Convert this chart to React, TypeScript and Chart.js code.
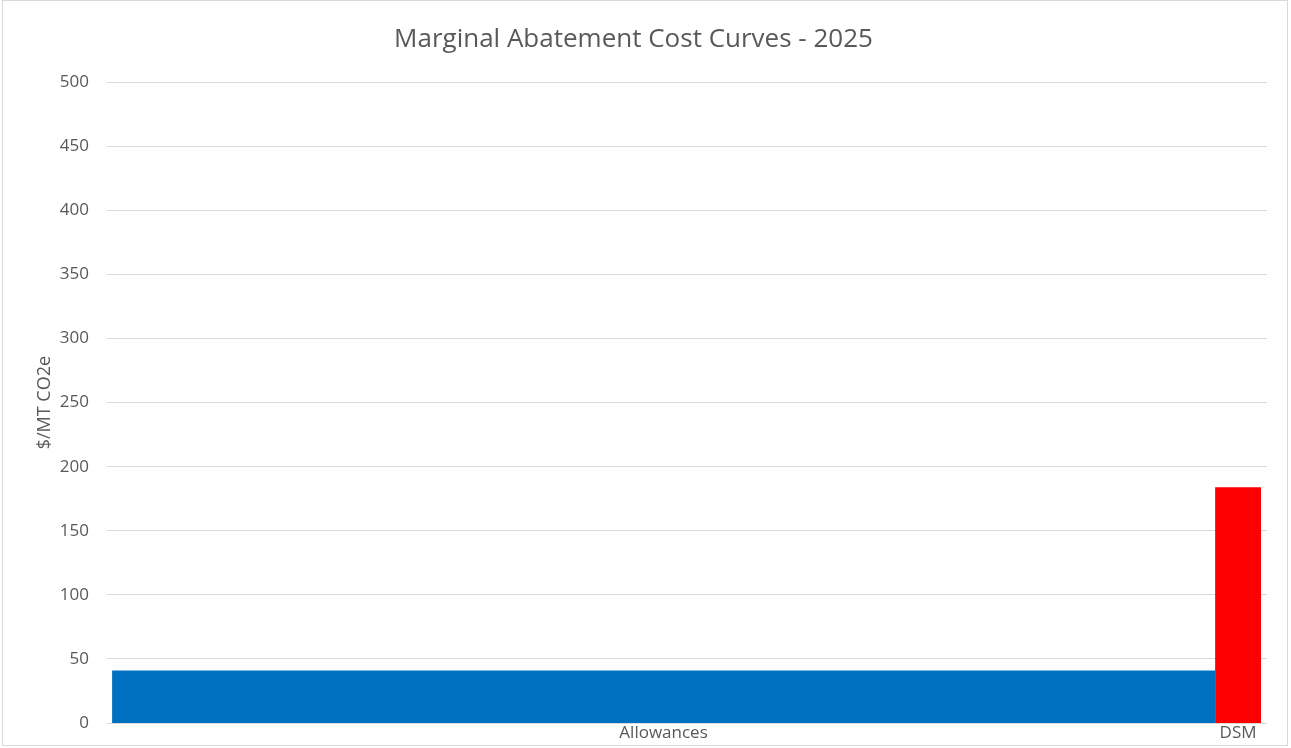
import React, { useEffect, useRef } from "react";
import { Chart, registerables } from "chart.js";

Chart.register(...registerables);

const title = "Marginal Abatement Cost Curves - 2025";
const yTitle = "$/MT CO2e";
const categories = ["Allowances", "DSM"];
const costs = [41, 184];
const quantities = [24, 1];
const colors = ["#0070C0", "#FF0000"];
const yTicksMax = 500;
const yStep = 50;

export default function App() {
  const ref = useRef<HTMLCanvasElement | null>(null);

  useEffect(() => {
    if (!ref.current) return;
    let start = 0;
    const centers: number[] = [];
    const datasets = categories.map((c, i) => {
      const x0 = start;
      const x1 = start + quantities[i];
      centers.push((x0 + x1) / 2);
      start = x1;
      return {
        label: c,
        data: [
          { x: x0, y: 0 },
          { x: x0, y: costs[i] },
          { x: x1, y: costs[i] },
          { x: x1, y: 0 },
        ],
        showLine: true,
        fill: "origin",
        backgroundColor: colors[i],
        borderColor: colors[i],
        borderWidth: 0,
        pointRadius: 0,
        tension: 0,
      };
    });
    const total = start;
    const font = "'Open Sans', sans-serif";
    const chart = new Chart(ref.current, {
      type: "scatter",
      data: { datasets: datasets as any },
      options: {
        animation: false,
        responsive: false,
        devicePixelRatio: 1,
        layout: { padding: { left: 0, right: 24, top: 0, bottom: 0 } },
        plugins: {
          legend: { display: false },
          tooltip: { enabled: false },
          title: {
            display: true,
            text: title,
            color: "#595959",
            font: { family: font, size: 26, weight: "normal" },
            padding: { top: 24, bottom: 27 },
          },
        },
        scales: {
          x: {
            type: "linear",
            min: -0.11,
            max: total + 0.13,
            grid: { display: false, drawTicks: false },
            border: { display: false },
            afterBuildTicks: (axis: any) => {
              axis.ticks = centers.map((v) => ({ value: v }));
            },
            afterFit: (axis: any) => {
              axis.height = 25;
            },
            ticks: {
              autoSkip: false,
              maxRotation: 0,
              padding: 0,
              color: "#595959",
              font: { family: font, size: 17 },
              callback: (_v: any, i: number) => categories[i],
            },
          },
          y: {
            min: 0,
            max: yTicksMax,
            grid: {
              color: "#d9d9d9",
              drawTicks: true,
              tickLength: 18,
              tickColor: "rgba(0,0,0,0)",
              lineWidth: 1,
            },
            border: { display: false },
            afterFit: (axis: any) => {
              axis.width = 107;
            },
            ticks: {
              stepSize: yStep,
              padding: 0,
              color: "#595959",
              font: { family: font, size: 17 },
            },
            title: {
              display: true,
              text: yTitle,
              color: "#595959",
              font: { family: font, size: 18 },
              padding: { top: 34, bottom: 0 },
            },
          },
        },
      },
    });
    return () => chart.destroy();
  }, []);

  return (
    <div
      style={{
        position: "fixed",
        left: 0,
        top: 0,
        width: 1291,
        height: 748,
        background: "#fff",
      }}
    >
      <div
        style={{
          position: "absolute",
          left: 2,
          top: 0,
          width: 1286,
          height: 746,
          border: "1px solid #d9d9d9",
          boxSizing: "border-box",
        }}
      />
      <canvas
        ref={ref}
        width={1291}
        height={748}
        style={{ position: "absolute", left: 0, top: 0, width: 1291, height: 748 }}
      />
    </div>
  );
}
